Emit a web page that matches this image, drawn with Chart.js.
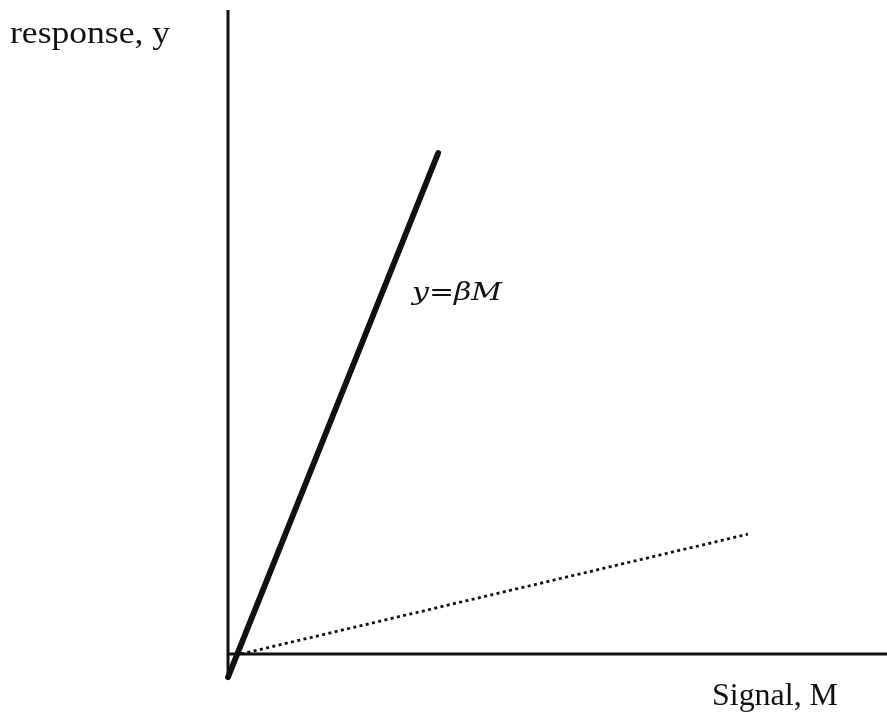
<!DOCTYPE html>
<html>
<head>
<meta charset="utf-8">
<script src="https://cdn.jsdelivr.net/npm/chart.js@4.4.1/dist/chart.umd.min.js"></script>
<style>
  html, body { margin: 0; padding: 0; background: #ffffff; }
  #wrap { width: 887px; height: 719px; }
</style>
</head>
<body>
<div id="wrap"><canvas id="c" width="887" height="719"></canvas></div>
<script>
// ---- data (signal M, response y in arbitrary units) ----
const signalAxis   = { M: [0, 10],      y: [0, 0] };          // horizontal axis line
const responseAxis = { M: [0, 0],       y: [-0.36, 10] };     // vertical axis line
const steepLine    = { M: [0, 3.19],    y: [-0.36, 7.78] };   // y = beta*M (solid, thick)
const shallowLine  = { M: [0.2, 7.89],  y: [0.0, 1.86] };     // dotted, low slope
const axisLabels   = { x: 'Signal, M', y: 'response, y' };
const lineLabel    = 'y=\u03B2M';

function pts(s) { return s.M.map((m, i) => ({ x: m, y: s.y[i] })); }

const textPlugin = {
  id: 'labels',
  afterDraw(chart) {
    const ctx = chart.ctx;
    function put(text, font, left, base, targetW) {
      ctx.save();
      ctx.font = font;
      ctx.fillStyle = '#111';
      ctx.textBaseline = 'alphabetic';
      const w = ctx.measureText(text).width;
      const s = targetW / w;
      ctx.translate(left, base);
      ctx.scale(s, 1);
      ctx.fillText(text, 0, 0);
      ctx.restore();
    }
    put(axisLabels.y, '31px "Liberation Serif"', 10, 43, 160);
    put(axisLabels.x, '31px "Liberation Serif"', 712, 705, 126);
    put(lineLabel, 'italic 25px "DejaVu Serif"', 412, 300, 90);
  }
};

new Chart(document.getElementById('c'), {
  type: 'scatter',
  data: {
    datasets: [
      { data: pts(signalAxis), showLine: true, borderColor: '#111', borderWidth: 3, pointRadius: 0 },
      { data: pts(responseAxis), showLine: true, borderColor: '#111', borderWidth: 3, pointRadius: 0 },
      { data: pts(shallowLine), showLine: true, borderColor: '#111', borderWidth: 2.8, borderDash: [3, 3.4], pointRadius: 0 },
      { data: pts(steepLine), showLine: true, borderColor: '#111', borderWidth: 5.8, borderCapStyle: 'round', pointRadius: 0 }
    ]
  },
  options: {
    responsive: false,
    animation: false,
    layout: { padding: 0 },
    plugins: { legend: { display: false }, tooltip: { enabled: false } },
    scales: {
      x: { type: 'linear', display: false, min: -3.46, max: 10 },
      y: { type: 'linear', display: false, min: -1.01, max: 10.155 }
    }
  },
  plugins: [textPlugin]
});
</script>
</body>
</html>
